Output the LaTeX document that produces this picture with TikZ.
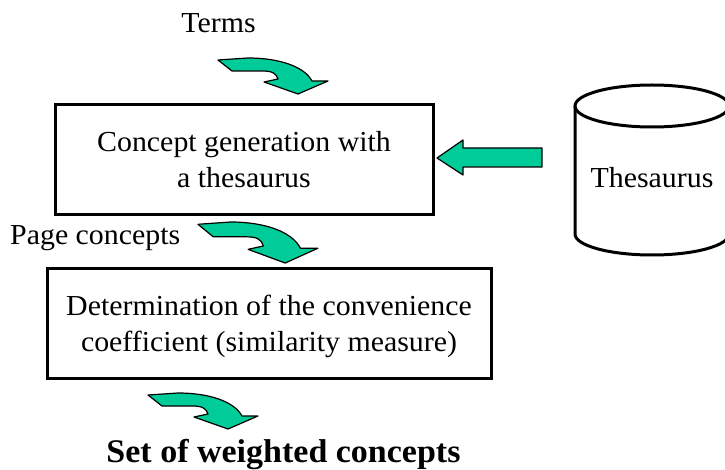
\documentclass[tikz,border=0pt]{standalone}
\usepackage{fontspec}
\setmainfont{Liberation Serif}[FakeStretch=1.03]
\usetikzlibrary{calc}
\definecolor{arrowgreen}{RGB}{0,204,153}
\begin{document}
\begin{tikzpicture}[x=1pt,y=-1pt,
  every node/.style={font=\fontsize{29}{36}\selectfont, inner sep=0pt},
  procbox/.style={draw, line width=3pt, align=center},
  drum/.style={line width=3pt},
  blockarrow/.style={fill=arrowgreen, draw=black, line width=1.2pt, line join=round},
  curvedarrow/.pic={
    \path[blockarrow] (0,2) -- (30,0) .. controls (60,0) and (86,8) .. (94,23)
      -- (110,23) -- (80,36) -- (46,24) -- (60,21)
      .. controls (58,15) and (54,13) .. (44,13) -- (14,13) -- cycle;
  }
]
\useasboundingbox (0,0) rectangle (725,470);
\clip (0,0) rectangle (725,470);

% processing steps
\node[procbox, minimum width=378pt, minimum height=110pt] (gen) at (244,160)
  {Concept generation with\\a thesaurus};
\node[procbox, minimum width=444pt, minimum height=109pt] (det) at (269,323.5)
  {\rule{0pt}{26pt}Determination of the convenience\\coefficient (similarity measure)};

% thesaurus drum
\draw[drum] (575,106) -- (575,234)
  arc[start angle=180, end angle=360, x radius=77pt, y radius=21pt] -- (729,106);
\draw[drum] (652,106) ellipse [x radius=77pt, y radius=21pt];
\node[anchor=base] (thes) at (652,188) {Thesaurus};

% labels
\node[anchor=base] (terms) at (218.5,33) {Terms};
\node[anchor=base west] (page) at (10,245) {Page concepts};
\node[anchor=base, font=\fontsize{33}{40}\selectfont\bfseries] (result) at (283.5,462)
  {Set of weighted concepts};

% flow arrows
\pic at (218,58) {curvedarrow};
\pic[xscale=1.09, yscale=1.14] at (198,222) {curvedarrow};
\pic at (148,393) {curvedarrow};
\path[blockarrow] (437,158) -- (463,140) -- (463,148) -- (542,148)
  -- (542,167) -- (463,167) -- (463,175) -- cycle;
\end{tikzpicture}
\end{document}
